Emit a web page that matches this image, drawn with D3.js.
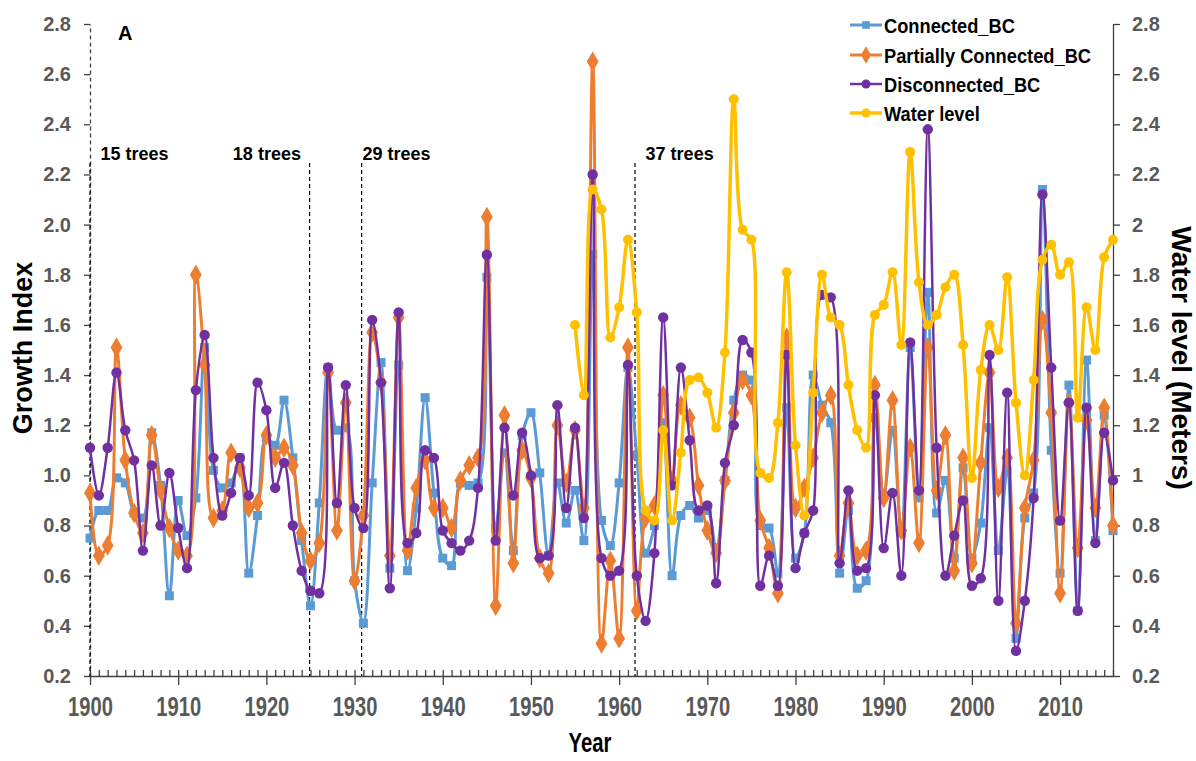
<!DOCTYPE html>
<html>
<head>
<meta charset="utf-8">
<script src="https://cdn.jsdelivr.net/npm/d3@7"></script>
<style>
  html, body { margin: 0; padding: 0; background: #fff; }
  #chart { width: 1196px; height: 761px; }
  text { font-family: "Liberation Sans", Arial, sans-serif; font-weight: bold; }
</style>
</head>
<body>
<div id="chart"></div>
<script>
// years on the x axis
const firstYear = 1900;
const lastYear = 2016;
const waterStartYear = 1955;

// growth index, 1900..2016
const connectedBC = [
  0.75, 0.86, 0.86, 0.99, 0.97, 0.85, 0.83, 1.17, 0.96, 0.52,
  0.90, 0.76, 0.91, 1.51, 1.02, 0.95, 0.97, 1.07, 0.61, 0.84,
  1.15, 1.12, 1.30, 1.07, 0.74, 0.48, 0.89, 1.43, 1.18, 1.19,
  0.58, 0.41, 0.97, 1.45, 0.63, 1.44, 0.62, 0.87, 1.31, 0.93,
  0.67, 0.64, 0.97, 0.96, 0.97, 1.79, 0.79, 1.09, 0.70, 1.16,
  1.25, 1.01, 0.68, 0.97, 0.81, 0.94, 0.74, 1.88, 0.82, 0.72,
  0.97, 1.43, 1.08, 0.69, 0.80, 1.21, 0.60, 0.84, 0.88, 0.83,
  0.86, 0.71, 0.98, 1.30, 1.40, 1.38, 0.80, 0.79, 0.61, 1.27,
  0.67, 0.77, 1.40, 1.28, 1.21, 0.61, 0.86, 0.55, 0.58, 1.23,
  0.92, 1.18, 0.77, 1.51, 0.91, 1.73, 0.85, 0.98, 0.67, 1.03,
  0.67, 0.81, 1.19, 0.70, 1.02, 0.35, 0.83, 0.93, 2.14, 1.10,
  0.61, 1.36, 0.46, 1.46, 0.74, 1.24, 0.78
];

const partiallyConnectedBC = [
  0.93, 0.68, 0.72, 1.51, 1.06, 0.85, 0.77, 1.16, 0.94, 0.79,
  0.70, 0.68, 1.80, 1.44, 0.83, 0.86, 1.09, 1.03, 0.87, 0.89,
  1.16, 1.07, 1.11, 1.04, 0.77, 0.66, 0.73, 1.41, 0.78, 1.29,
  0.58, 0.84, 1.57, 1.37, 0.68, 1.63, 0.70, 0.95, 1.06, 0.87,
  0.87, 0.79, 0.98, 1.04, 1.07, 2.03, 0.48, 1.24, 0.65, 1.10,
  0.99, 0.67, 0.61, 1.20, 0.97, 1.18, 0.87, 2.65, 0.33, 0.66,
  0.35, 1.51, 0.46, 0.83, 0.88, 1.32, 0.98, 1.28, 1.23, 0.96,
  0.78, 0.69, 0.98, 1.25, 1.38, 1.32, 0.82, 0.71, 0.53, 1.55,
  0.87, 0.95, 1.07, 1.25, 1.32, 0.68, 0.89, 0.68, 0.70, 1.36,
  0.91, 1.30, 0.78, 1.11, 0.73, 1.51, 0.94, 1.16, 0.62, 1.07,
  0.65, 1.05, 1.41, 0.95, 1.07, 0.41, 0.87, 1.06, 1.62, 1.25,
  0.53, 1.29, 0.71, 1.22, 0.87, 1.27, 0.80
];

const disconnectedBC = [
  1.11, 0.92, 1.11, 1.41, 1.18, 1.06, 0.70, 1.04, 0.80, 1.01,
  0.79, 0.63, 1.34, 1.56, 1.07, 0.84, 0.93, 1.07, 0.92, 1.37,
  1.26, 0.95, 1.05, 0.80, 0.62, 0.54, 0.53, 1.43, 0.89, 1.36,
  0.87, 0.79, 1.62, 1.37, 0.55, 1.65, 0.73, 0.77, 1.10, 1.07,
  0.78, 0.73, 0.70, 0.74, 0.95, 1.88, 0.74, 1.19, 0.92, 1.17,
  1.00, 0.67, 0.68, 1.28, 0.87, 1.19, 0.83, 2.20, 0.67, 0.60,
  0.62, 1.44, 0.60, 0.42, 0.69, 1.63, 0.96, 1.43, 1.14, 0.86,
  0.88, 0.57, 1.05, 1.20, 1.54, 1.49, 0.56, 0.68, 0.56, 1.48,
  0.63, 0.77, 0.86, 1.72, 1.71, 0.65, 0.94, 0.62, 0.63, 1.32,
  0.71, 0.93, 0.60, 1.53, 0.94, 2.38, 1.11, 0.60, 0.76, 0.90,
  0.56, 0.59, 1.48, 0.50, 1.33, 0.30, 0.50, 0.91, 2.12, 1.43,
  0.82, 1.29, 0.46, 1.27, 0.73, 1.17, 0.98
];

// water level (m), 1955..2016
const waterLevel = [
  1.60, 1.32, 2.14, 2.06, 1.55, 1.67, 1.94, 1.65, 0.86, 0.82,
  1.18, 0.82, 1.09, 1.38, 1.39, 1.33, 1.19, 1.49, 2.50, 1.98,
  1.94, 1.01, 0.99, 1.21, 1.81, 1.12, 0.84, 1.33, 1.80, 1.63,
  1.60, 1.36, 1.18, 1.11, 1.64, 1.68, 1.81, 1.52, 2.29, 1.77,
  1.60, 1.64, 1.75, 1.80, 1.52, 0.99, 1.42, 1.60, 1.50, 1.79,
  1.29, 1.00, 1.38, 1.86, 1.92, 1.80, 1.85, 1.23, 1.67, 1.50,
  1.87, 1.94
];

const yTicks = [0.2, 0.4, 0.6, 0.8, 1.0, 1.2, 1.4, 1.6, 1.8, 2.0, 2.2, 2.4, 2.6, 2.8];
const decadeTicks = [1900, 1910, 1920, 1930, 1940, 1950, 1960, 1970, 1980, 1990, 2000, 2010];

// sample-size breaks and their labels
const treeBreaks = [1900, 1924.9, 1930.8, 1961.8];
const treeLabelYears = [1901.2, 1916.2, 1930.9, 1963.0];
const treeLabels = ['15 trees', '18 trees', '29 trees', '37 trees'];

const seriesNames = ['Connected_BC', 'Partially Connected_BC', 'Disconnected_BC', 'Water level'];

const growthChart = (() => {
  let $svg,
      $chart;

  let width = 1196,
      height = 761,
      plot = {left: 90, right: 1113, top: 24, bottom: 676};

  let x, y, yRight;

  const styles = [
    {color: '#5B9BD5', width: 3,   marker: 'square',  size: 9},
    {color: '#ED7D31', width: 3,   marker: 'diamond', size: 11},
    {color: '#7030A0', width: 2.5, marker: 'circle',  size: 5.2},
    {color: '#FFC000', width: 3.5, marker: 'circle',  size: 5}
  ];

  //////////////////////////////////
  // PUBLIC
  const init = (el) => {
    if(el === null){
      console.log('CHART: ELEMENT CANNOT BE NULL');
      return false;
    }

    x = d3.scaleLinear().domain([firstYear, lastYear]).range([plot.left, plot.right]);
    y = d3.scaleLinear().domain([0.2, 2.8]).range([plot.bottom, plot.top]);
    yRight = d3.scaleLinear().domain([0.2, 2.8]).range([plot.bottom, plot.top]);

    draw(el);
  };

  //////////////////////////////////
  // PRIVATE
  function toPoints(values, startYear) {
    return values.map((v, i) => ({year: startYear + i, value: v}));
  }

  function drawMarkers($g, pts, st, scaleY) {
    if(st.marker === 'circle'){
      $g.selectAll('circle').data(pts).enter().append('circle')
        .attr('cx', d => x(d.year))
        .attr('cy', d => scaleY(d.value))
        .attr('r', st.size)
        .style('fill', st.color);
    } else {
      const sym = st.marker === 'square' ? d3.symbolSquare : d3.symbolDiamond;
      $g.selectAll('path.mk').data(pts).enter().append('path')
        .attr('class', 'mk')
        .attr('transform', d => `translate(${x(d.year)},${scaleY(d.value)})`)
        .attr('d', d3.symbol().type(sym).size(st.size * st.size))
        .style('fill', st.color);
    }
  }

  function draw(el) {
    $svg = d3.select(el).append('svg')
      .attr('width', width)
      .attr('height', height);

    $chart = $svg.append('g');

    // axes
    const $xMinor = $chart.append('g')
      .attr('transform', `translate(0,${plot.bottom})`)
      .call(d3.axisBottom(x).tickValues(d3.range(firstYear, lastYear + 1)).tickSize(-6).tickFormat(''));
    $xMinor.select('.domain').remove();

    const $xAxis = $chart.append('g')
      .attr('transform', `translate(0,${plot.bottom})`)
      .call(d3.axisBottom(x).tickValues(decadeTicks).tickSize(9).tickPadding(11).tickFormat(d3.format('d')).tickSizeOuter(0));
    $xAxis.selectAll('text')
      .style('font-size', '28px')
      .style('fill', '#595959')
      .attr('transform', 'scale(0.72,1)');

    const $yAxis = $chart.append('g')
      .attr('transform', `translate(${plot.left},0)`)
      .call(d3.axisLeft(y).tickValues(yTicks).tickSize(6).tickPadding(13).tickFormat(d3.format('.1f')).tickSizeOuter(0));
    $yAxis.selectAll('text').style('font-size', '20px').style('fill', '#595959');
    $yAxis.select('.domain').style('stroke-dasharray', '4,3');

    const $yRightAxis = $chart.append('g')
      .attr('transform', `translate(${plot.right},0)`)
      .call(d3.axisRight(yRight).tickValues(yTicks).tickSize(7).tickPadding(12)
        .tickFormat(d => String(+d.toFixed(1))).tickSizeOuter(0));
    $yRightAxis.selectAll('text').style('font-size', '20px').style('fill', '#595959');

    $chart.selectAll('.domain, .tick line').style('stroke', '#404040').style('stroke-width', 1.3);

    // tree-count breaks
    $chart.append('g').selectAll('line')
      .data(treeBreaks).enter().append('line')
      .attr('x1', d => x(d)).attr('x2', d => x(d))
      .attr('y1', 163).attr('y2', plot.bottom)
      .style('stroke', '#000')
      .style('stroke-width', 1.2)
      .style('stroke-dasharray', '4,3');

    $chart.append('g').selectAll('text')
      .data(treeLabels).enter().append('text')
      .attr('x', (d, i) => x(treeLabelYears[i]))
      .attr('y', 160)
      .style('font-size', '18px')
      .style('fill', '#000')
      .text(d => d);

    // series
    const allSeries = [
      {values: toPoints(connectedBC, firstYear), scaleY: y},
      {values: toPoints(partiallyConnectedBC, firstYear), scaleY: y},
      {values: toPoints(disconnectedBC, firstYear), scaleY: y},
      {values: toPoints(waterLevel, waterStartYear), scaleY: yRight}
    ];

    allSeries.forEach((s, i) => {
      const st = styles[i];
      const line = d3.line()
        .x(d => x(d.year))
        .y(d => s.scaleY(d.value))
        .curve(d3.curveCatmullRom.alpha(0.5));

      const $g = $chart.append('g').attr('class', 'series-' + i);
      $g.append('path')
        .datum(s.values)
        .attr('d', line)
        .style('fill', 'none')
        .style('stroke', st.color)
        .style('stroke-width', st.width)
        .style('stroke-linejoin', 'round');
      drawMarkers($g, s.values, st, s.scaleY);
    });

    // legend
    const legendRows = [25, 55, 84, 113];
    const $legend = $chart.append('g').attr('class', 'legend');
    seriesNames.forEach((name, i) => {
      const st = styles[i];
      const $row = $legend.append('g').attr('transform', `translate(850,${legendRows[i]})`);
      $row.append('line')
        .attr('x1', 0).attr('x2', 32)
        .style('stroke', st.color)
        .style('stroke-width', st.width);
      const ls = Object.assign({}, st, {size: st.marker === 'circle' ? 4.5 : st.size * 0.85});
      const $m = $row.append('g').attr('transform', 'translate(16,0)');
      if(ls.marker === 'circle'){
        $m.append('circle').attr('r', ls.size).style('fill', st.color);
      } else {
        const sym = ls.marker === 'square' ? d3.symbolSquare : d3.symbolDiamond;
        $m.append('path').attr('d', d3.symbol().type(sym).size(ls.size * ls.size)).style('fill', st.color);
      }
      $row.append('text')
        .attr('transform', 'translate(34,7.5) scale(0.87,1)')
        .style('font-size', '21px')
        .style('fill', '#000')
        .text(name);
    });

    // panel letter
    $chart.append('text')
      .attr('x', 118).attr('y', 40)
      .style('font-size', '20px')
      .text('A');

    // axis titles
    $chart.append('text')
      .attr('transform', `translate(590,752) scale(0.75,1)`)
      .attr('text-anchor', 'middle')
      .style('font-size', '27px')
      .text('Year');

    $chart.append('text')
      .attr('transform', 'translate(32,348) rotate(-90)')
      .attr('text-anchor', 'middle')
      .style('font-size', '27px')
      .text('Growth Index');

    $chart.append('text')
      .attr('transform', 'translate(1172,358) rotate(90)')
      .attr('text-anchor', 'middle')
      .style('font-size', '28px')
      .text('Water level (Meters)');
  };

  return {
    init: init,
  };
})();

growthChart.init(document.getElementById('chart'));
</script>
</body>
</html>
